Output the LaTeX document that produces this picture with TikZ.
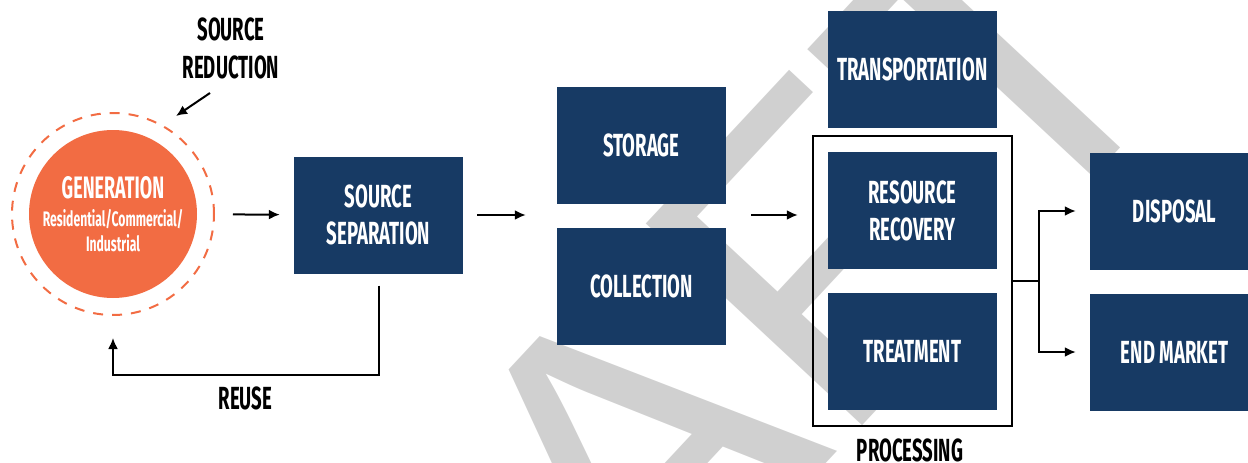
\documentclass[tikz,border=0pt]{standalone}
\usepackage{fontspec}
\setmainfont{Fira Sans}[FakeStretch=0.58]
\newfontfamily\markfont{Liberation Sans}
\usetikzlibrary{arrows.meta,positioning,fit}

\definecolor{navy}{HTML}{173A64}
\definecolor{genorange}{HTML}{F26C43}
\definecolor{markgray}{HTML}{D0D0D0}

\tikzset{
  stagebox/.style={fill=navy, text=white, minimum width=169pt, minimum height=117pt,
    inner sep=0pt, align=center, font=\bfseries\fontsize{32}{37}\selectfont},
  flow/.style={-{Latex[length=11pt,width=10pt]}, line width=2pt},
  tag/.style={align=center, font=\bfseries\fontsize{32}{38}\selectfont}
}

\begin{document}
\begin{tikzpicture}[x=1pt,y=-1pt]
\useasboundingbox (0,0) rectangle (1248,463);

% Watermark
\node[rotate=47, text=markgray, font=\markfont\fontsize{430}{430}\selectfont] (mark) at (600,490) {DRAFT};

% Generation
\node[circle, fill=genorange, minimum size=168pt, inner sep=0pt, text=white, align=center,
  font=\bfseries\fontsize{21}{25}\selectfont] (gen) at (113,214)
  {{\fontsize{31}{34}\selectfont GENERATION}\\[3pt]
   Residential/Commercial/\\
   Industrial};
\node[circle, draw=genorange, line width=2pt, dash pattern=on 10pt off 9pt,
  minimum size=202pt] (genring) at (gen) {};

% Stages
\foreach \id/\xy/\lab in {sep/{378.5,215}/{SOURCE\\SEPARATION},
    stor/{641.5,145.5}/STORAGE, coll/{641.5,286.5}/COLLECTION,
    trans/{912.5,69.5}/TRANSPORTATION, rec/{912.5,210.5}/{RESOURCE\\RECOVERY},
    treat/{912.5,351.5}/TREATMENT, disp/{1174.5,211}/DISPOSAL,
    market/{1174.5,352}/{END MARKET}} {
  \node[stagebox] (\id) at (\xy) {\lab};
}

% Processing frame
\node[draw, line width=2pt, fit=(rec)(treat), inner xsep=15pt, inner ysep=16pt] (proc) {};

% Labels
\node[tag] (reduction) at (231,48) {SOURCE\\REDUCTION};
\node[tag] (reuse) at (245.5,398) {REUSE};
\node[tag] (proclab) at (910,450) {PROCESSING};

% Flow
\coordinate (redtail) at (210,93);
\coordinate (redtip) at (176,116);
\draw[flow] (redtail) -- (redtip);
\draw[flow, shorten <=18pt, shorten >=14pt] (genring) -- (sep);
\draw[flow, shorten <=14pt, shorten >=31pt] (sep.east) -- (sep.east -| stor.west);
\draw[flow, shorten <=25pt, shorten >=14pt] (sep.east -| stor.east) -- (sep.east -| proc.west);
\draw[line width=2pt] (proc.east) -- ++(26,0) coordinate (fork);
\draw[flow, shorten >=14pt] (fork) |- (disp.west);
\draw[flow, shorten >=14pt] (fork) |- (market.west);

% Reuse loop
\draw[flow] ([yshift=-12pt]sep.south) -- ++(0,89) -| ([yshift=-22pt]genring.south);
\end{tikzpicture}
\end{document}
